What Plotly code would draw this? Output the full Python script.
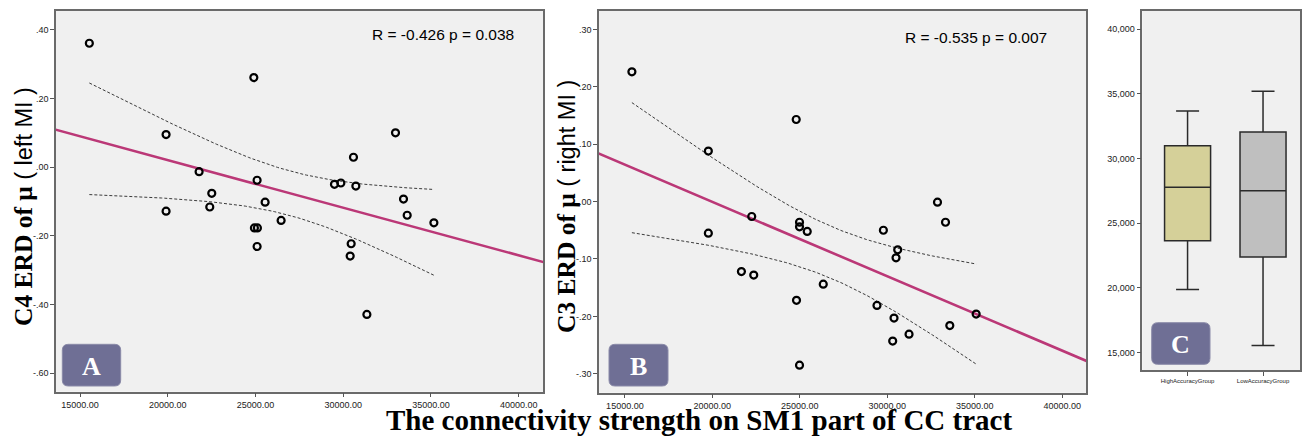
import numpy as np
import plotly.graph_objects as go

# ---------------- data ----------------
# Panel A: connectivity strength vs C4 ERD of mu (left MI)
a_conn = [15530, 24903, 19903, 21785, 25091, 22507, 25547, 22393, 19903, 26459,
          24937, 25108, 25091, 32977, 30582, 29499, 29863, 30718, 33433, 33643,
          35165, 30451, 30394, 31346]
a_erd = [0.361, 0.261, 0.095, -0.013, -0.038, -0.076, -0.102, -0.116, -0.128, -0.155,
         -0.177, -0.177, -0.231, 0.100, 0.029, -0.050, -0.046, -0.055, -0.093, -0.140,
         -0.162, -0.223, -0.259, -0.429]
a_stat = "R = -0.426 p = 0.038"

# Panel B: connectivity strength vs C3 ERD of mu (right MI)
b_conn = [15401, 24794, 19771, 22251, 24983, 24983, 25424, 19771, 21661, 22366,
          24811, 24983, 32870, 33328, 29777, 30596, 30500, 26340, 29411, 30385,
          35080, 33574, 31244, 30310]
b_erd = [0.226, 0.143, 0.088, -0.026, -0.036, -0.044, -0.052, -0.055, -0.122, -0.128,
         -0.172, -0.285, -0.001, -0.036, -0.050, -0.084, -0.098, -0.144, -0.181, -0.203,
         -0.196, -0.216, -0.231, -0.243]
b_stat = "R = -0.535 p = 0.007"

# Panel C: box plot statistics
c_groups = ["HighAccuracyGroup", "LowAccuracyGroup"]
c_min = [19880, 15560]
c_q1 = [23640, 22400]
c_median = [27770, 27500]
c_q3 = [30980, 32040]
c_max = [33660, 35190]
c_fill = ["#d5d099", "#bfbfbf"]

# axis tick labels
a_yticks = [0.40, 0.20, 0.00, -0.20, -0.40, -0.60]
a_yticklabels = [".40", ".20", ".00", "-.20", "-.40", "-.60"]
b_yticks = [0.30, 0.20, 0.10, 0.00, -0.10, -0.20, -0.30]
b_yticklabels = [".30", ".20", ".10", ".00", "-.10", "-.20", "-.30"]
x_ticks = [15000, 20000, 25000, 30000, 35000, 40000]
c_yticks = [15000, 20000, 25000, 30000, 35000, 40000]

T_CRIT = 2.074  # t(0.975, df=22)

W, H = 1312, 438
def fx(p):
    return p / W
def fy(p):
    return 1 - p / H

PINK = "#bb3877"
BG = "#f0f0f0"
FRAME = "#6a6a6a"

fig = go.Figure()

def scatter_panel(xv, yv, xa, ya):
    x = np.array(xv, float)
    y = np.array(yv, float)
    n = len(x)
    b1, b0 = np.polyfit(x, y, 1)
    resid = y - (b0 + b1 * x)
    s = np.sqrt(np.sum(resid ** 2) / (n - 2))
    sxx = np.sum((x - x.mean()) ** 2)
    xl = np.array([-1e6, 1e6])
    fig.add_trace(go.Scatter(x=xl, y=b0 + b1 * xl, mode="lines",
                             line=dict(color=PINK, width=2.6),
                             xaxis=xa, yaxis=ya, showlegend=False, hoverinfo="skip"))
    xs = np.linspace(x.min(), x.max(), 120)
    se = s * np.sqrt(1 / n + (xs - x.mean()) ** 2 / sxx)
    yh = b0 + b1 * xs
    for sign in (1, -1):
        fig.add_trace(go.Scatter(x=xs, y=yh + sign * T_CRIT * se, mode="lines",
                                 line=dict(color="#3a3a3a", width=1, dash="3px,2px"),
                                 xaxis=xa, yaxis=ya, showlegend=False, hoverinfo="skip"))
    fig.add_trace(go.Scatter(x=x, y=y, mode="markers",
                             marker=dict(symbol="circle-open", size=7, color="black",
                                         line=dict(width=2.2, color="black")),
                             xaxis=xa, yaxis=ya, showlegend=False))

scatter_panel(a_conn, a_erd, "x", "y")
scatter_panel(b_conn, b_erd, "x2", "y2")

for i, g in enumerate(c_groups):
    fig.add_trace(go.Box(x=[g], q1=[c_q1[i]], median=[c_median[i]], q3=[c_q3[i]],
                         lowerfence=[c_min[i]], upperfence=[c_max[i]],
                         width=0.61, whiskerwidth=0.5, fillcolor=c_fill[i],
                         line=dict(color="#2a2a2a", width=1.5), boxpoints=False,
                         xaxis="x3", yaxis="y3", showlegend=False))

tickfont = dict(family="Liberation Sans, Arial", size=9, color="#222")
common = dict(showline=True, linecolor=FRAME, linewidth=1.5, mirror=True,
              ticks="outside", ticklen=4, tickcolor="#555", tickwidth=1,
              showgrid=False, zeroline=False, tickfont=tickfont)

fig.update_layout(
    width=W, height=H, margin=dict(l=0, r=0, t=0, b=0),
    paper_bgcolor="white", plot_bgcolor=BG,
    xaxis=dict(domain=[fx(56), fx(543.3)], range=[13630, 41400], anchor="y",
               tickvals=x_ticks, tickformat=".2f", **common),
    yaxis=dict(domain=[fy(391.7), fy(11)], range=[-0.654, 0.455], anchor="x",
               tickvals=a_yticks, ticktext=a_yticklabels, **common),
    xaxis2=dict(domain=[fx(599), fx(1086)], range=[13520, 41360], anchor="y2",
                tickvals=x_ticks, tickformat=".2f", **common),
    yaxis2=dict(domain=[fy(392.7), fy(11)], range=[-0.333, 0.332], anchor="x2",
                tickvals=b_yticks, ticktext=b_yticklabels, **common),
    xaxis3=dict(domain=[fx(1142.3), fx(1300)], range=[-0.6, 1.49], anchor="y3",
                type="category", **{k: v for k, v in common.items() if k != "tickfont"},
                tickfont=dict(family="Liberation Sans, Arial", size=6, color="#222")),
    yaxis3=dict(domain=[fy(370), fy(11)], range=[13663, 41391], anchor="x3",
                tickvals=c_yticks, tickformat=",d", **common),
)

# rounded label boxes
def rrect(x0, y0, x1, y1, r=6):
    X = lambda p: fx(p)
    Y = lambda p: fy(p)
    return (f"M {X(x0+r)},{Y(y0)} L {X(x1-r)},{Y(y0)} Q {X(x1)},{Y(y0)} {X(x1)},{Y(y0+r)} "
            f"L {X(x1)},{Y(y1-r)} Q {X(x1)},{Y(y1)} {X(x1-r)},{Y(y1)} "
            f"L {X(x0+r)},{Y(y1)} Q {X(x0)},{Y(y1)} {X(x0)},{Y(y1-r)} "
            f"L {X(x0)},{Y(y0+r)} Q {X(x0)},{Y(y0)} {X(x0+r)},{Y(y0)} Z")

labels = [("A", 62.3, 344.3, 120.7, 386), ("B", 609, 344.3, 668, 386), ("C", 1151.7, 322.7, 1210, 364.3)]
for txt, x0, y0, x1, y1 in labels:
    fig.add_shape(type="path", path=rrect(x0, y0, x1, y1), xref="paper", yref="paper",
                  fillcolor="#6f6f95", line=dict(color="#8a8aa8", width=1))
    fig.add_annotation(text=f"<b>{txt}</b>", x=fx((x0 + x1) / 2), y=fy((y0 + y1) / 2 + 1),
                       xref="paper", yref="paper", showarrow=False,
                       xanchor="center", yanchor="middle",
                       font=dict(family="Liberation Serif, Times New Roman", size=26, color="white"))

# statistics text
fig.add_annotation(text=a_stat, x=fx(370.3), y=fy(34.7), xref="paper", yref="paper",
                   xanchor="left", yanchor="middle", showarrow=False,
                   font=dict(family="Liberation Sans, Arial", size=15.5, color="black"))
fig.add_annotation(text=b_stat, x=fx(902.7), y=fy(37.7), xref="paper", yref="paper",
                   xanchor="left", yanchor="middle", showarrow=False,
                   font=dict(family="Liberation Sans, Arial", size=15.5, color="black"))

# y-axis titles
ytitle_a = "<b>C4 ERD of μ </b><span style='font-family:Liberation Sans, Arial;font-size:23.5px'>( left MI )</span>"
ytitle_b = "<b>C3 ERD of μ </b><span style='font-family:Liberation Sans, Arial;font-size:23.5px'>( right MI )</span>"
for t, xc in ((ytitle_a, 23), (ytitle_b, 566)):
    fig.add_annotation(text=t, x=fx(xc), y=fy(207), xref="paper", yref="paper",
                       textangle=-90, showarrow=False, xanchor="center", yanchor="middle",
                       font=dict(family="Liberation Serif, Times New Roman", size=25.5, color="black"))

# shared x title
fig.add_annotation(text="<b>The connectivity strength on SM1 part of CC tract</b>",
                   x=fx(698.5), y=fy(420), xref="paper", yref="paper", showarrow=False,
                   xanchor="center", yanchor="middle",
                   font=dict(family="Liberation Serif, Times New Roman", size=29, color="black"))

fig.write_html("out.html", config={"displayModeBar": False})

# remove default page margin so the figure maps 1:1 onto the window
with open("out.html", "r", encoding="utf-8") as f:
    html = f.read()
html = html.replace("<head>", "<head><style>html,body{margin:0;padding:0;overflow:hidden;}</style>", 1)
with open("out.html", "w", encoding="utf-8") as f:
    f.write(html)
